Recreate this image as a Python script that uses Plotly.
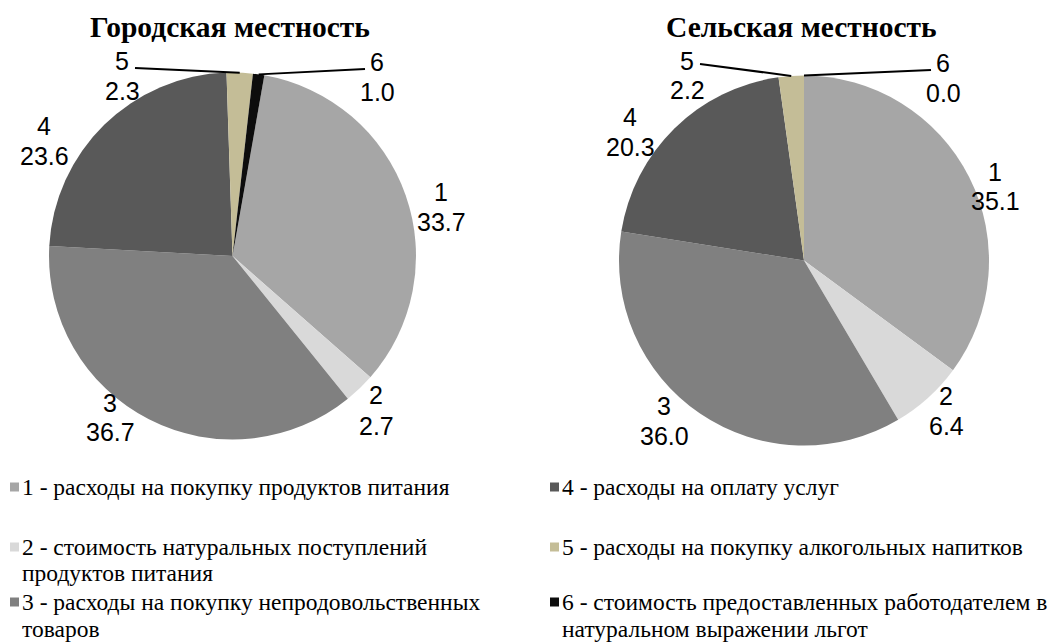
import math
import plotly.graph_objects as go

# ---------------- data ----------------
categories = ["1", "2", "3", "4", "5", "6"]
urban_values = [33.7, 2.7, 36.7, 23.6, 2.3, 1.0]
rural_values = [35.1, 6.4, 36.0, 20.3, 2.2, 0.0]
titles = ["Городская местность", "Сельская местность"]
legend_names = [
    ["1 - расходы на покупку продуктов питания"],
    ["2 - стоимость натуральных поступлений", "продуктов питания"],
    ["3 - расходы на покупку непродовольственных", "товаров"],
    ["4 - расходы на оплату услуг"],
    ["5 - расходы на покупку алкогольных напитков"],
    ["6 - стоимость предоставленных работодателем в", "натуральном выражении льгот"],
]

# ---------------- styles / layout ----------------
colors = ["#A6A6A6", "#D9D9D9", "#808080", "#595959", "#C4BD97", "#0D0D0D"]
OFF = 8                      # page body margin of the html page
W, H = 1064 - OFF, 644 - OFF  # figure size
SANS = "Liberation Sans, Arial, sans-serif"
SERIF = "Liberation Serif, Times New Roman, serif"
LABEL_SIZE = 25
LEGEND_SIZE = 23.5
TITLE_SIZE = 29.5


def px(x):
    """window pixel x -> paper fraction"""
    return (x - OFF) / W


def py(y):
    """window pixel y -> paper fraction"""
    return 1 - (y - OFF) / H


pies = [
    dict(values=urban_values, cx=232.5, cy=256.0, r=183.5, rot=10, title_x=230,
         # label block positions: (x, y of category line, y of value line)
         label_pos=[(441, 192, 222), (376, 395, 426), (110, 403, 432),
                    (44, 126, 156), (122, 61, 91), (377, 62, 92)],
         leader_start={4: (135, 68), 5: (365, 69)}),
    dict(values=rural_values, cx=804.0, cy=260.5, r=185.0, rot=0, title_x=801,
         label_pos=[(995, 172, 201), (946, 396, 426), (664, 406, 436),
                    (630, 117, 147), (687, 61, 90), (943, 63, 93)],
         leader_start={4: (700, 64), 5: (931, 70)}),
]

fig = go.Figure()
annotations = []
shapes = []

for k, p in enumerate(pies):
    vals = p["values"]
    cx, cy, r = p["cx"], p["cy"], p["r"]
    fig.add_trace(go.Pie(
        labels=categories, values=vals, sort=False, direction="clockwise",
        rotation=p["rot"], textinfo="none", textposition="none",
        marker=dict(colors=colors, line=dict(width=0)),
        showlegend=False, hole=0,
        domain=dict(x=[px(cx - r), px(cx + r)], y=[py(cy + r), py(cy - r)]),
    ))
    # title
    annotations.append(dict(
        x=px(p["title_x"]), y=py(27), xref="paper", yref="paper",
        text="<b>" + titles[k] + "</b>", showarrow=False,
        xanchor="center", yanchor="middle",
        font=dict(family=SERIF, size=TITLE_SIZE, color="#000000")))
    # data labels
    total = sum(vals)
    cum = 0.0
    for i, (cat, v) in enumerate(zip(categories, vals)):
        lx, ly1, ly2 = p["label_pos"][i]
        annotations.append(dict(x=px(lx), y=py(ly1), xref="paper", yref="paper",
                                text=cat, showarrow=False, xanchor="center", yanchor="middle",
                                font=dict(family=SANS, size=LABEL_SIZE, color="#000000")))
        annotations.append(dict(x=px(lx), y=py(ly2), xref="paper", yref="paper",
                                text=f"{v:.1f}", showarrow=False, xanchor="center", yanchor="middle",
                                font=dict(family=SANS, size=LABEL_SIZE, color="#000000")))
        mid = p["rot"] + 360.0 * (cum + v / 2) / total
        cum += v
        if i in p["leader_start"]:
            sx, sy = p["leader_start"][i]
            ex = cx + r * math.sin(math.radians(mid))
            ey = cy - r * math.cos(math.radians(mid))
            shapes.append(dict(type="line", xref="paper", yref="paper",
                               x0=px(sx), y0=py(sy), x1=px(ex), y1=py(ey),
                               line=dict(color="#000000", width=2)))

# legend (two columns)
legend_cols = [
    dict(items=[0, 1, 2], sq_x=10, text_x=20,
         line_y=[[487], [547, 573], [602, 629]]),
    dict(items=[3, 4, 5], sq_x=550, text_x=560,
         line_y=[[487], [547], [602, 629]]),
]
SQ = 9
for col in legend_cols:
    for k, idx in enumerate(col["items"]):
        ys = col["line_y"][k]
        shapes.append(dict(type="rect", xref="paper", yref="paper",
                           x0=px(col["sq_x"]), x1=px(col["sq_x"] + SQ),
                           y0=py(ys[0] + SQ / 2), y1=py(ys[0] - SQ / 2),
                           fillcolor=colors[idx], line=dict(width=0)))
        for line_txt, yy in zip(legend_names[idx], ys):
            annotations.append(dict(x=px(col["text_x"]), y=py(yy), xref="paper", yref="paper",
                                    text=line_txt, showarrow=False, xanchor="left", yanchor="middle",
                                    font=dict(family=SERIF, size=LEGEND_SIZE, color="#000000")))

fig.update_layout(
    width=W, height=H, margin=dict(l=0, r=0, t=0, b=0),
    paper_bgcolor="#FFFFFF", plot_bgcolor="#FFFFFF",
    annotations=annotations, shapes=shapes, showlegend=False,
)

fig.write_html("out.html")
